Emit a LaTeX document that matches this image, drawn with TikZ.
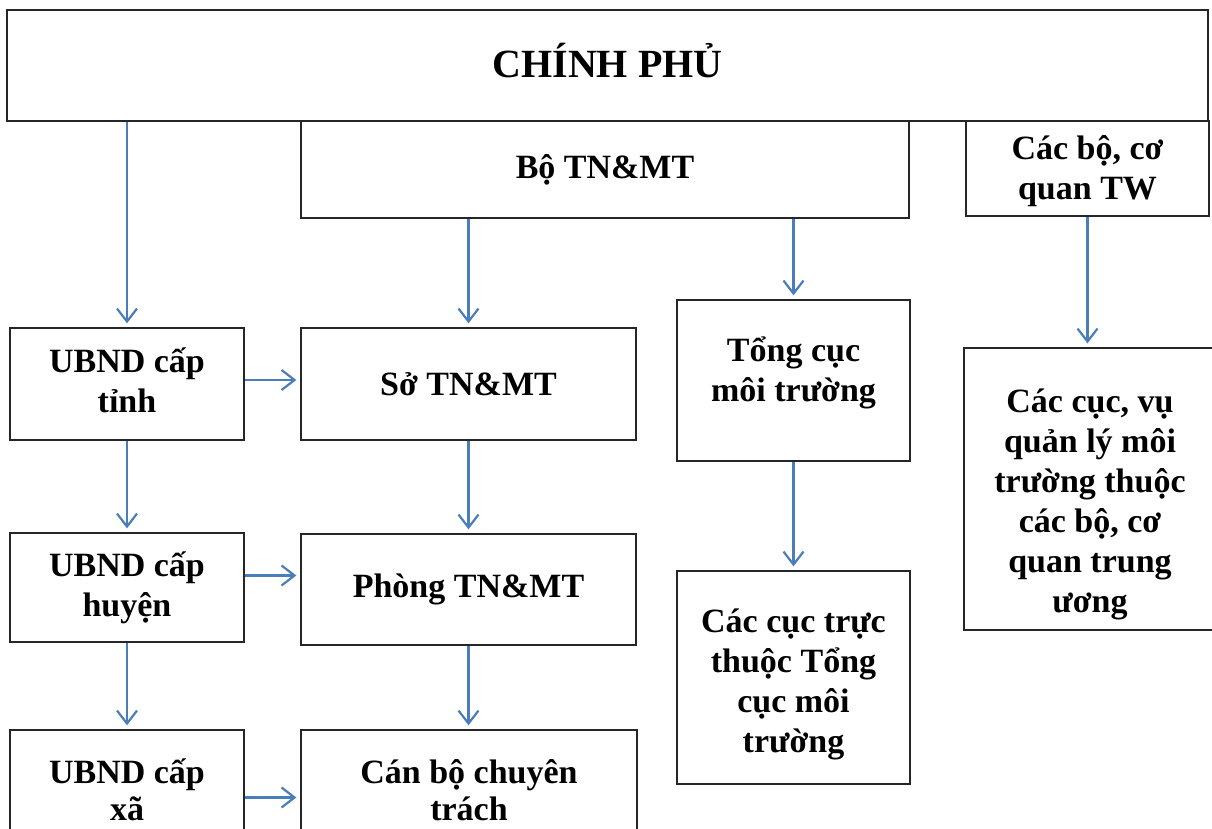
\documentclass[tikz,border=0pt]{standalone}
\usepackage{fontspec}
\setmainfont{Liberation Serif}
\usepackage{tikz}
\usetikzlibrary{positioning}
\usetikzlibrary{arrows.meta}
\definecolor{arrowblue}{HTML}{4A7EBB}
\tikzset{
    box/.style={draw=black!85,line width=1.3pt,align=center,inner sep=0pt,
            font=\bfseries\fontsize{34}{40}\selectfont},
    boxsize/.style 2 args={minimum width=#1pt,minimum height=#2pt},
    lift/.style={text height=#1pt,text depth=0pt},
    arrow/.style={-{Straight Barb[length=13pt,width=20pt,line width=2.2pt]},
            draw=arrowblue,line width=2.4pt,shorten >=4pt}
    }

\begin{document}
\begin{tikzpicture}[x=1pt,y=-1pt]
                \clip (0,0) rectangle (1212,829);
                \useasboundingbox (0,0) rectangle (1212,829);
                % top level
                \node (cp) [box, boxsize={1201}{111}, lift=25, font=\bfseries\fontsize{40}{44}\selectfont] at (607.5,65.5) {CHÍNH PHỦ};
                \node (bo) [box, boxsize={608}{97}] at (605,169.5) {Bộ TN\&MT};
                \node (tw) [box, boxsize={243}{95}, lift=63] at (1087.5,168.5) {Các bộ, cơ\\quan TW};
                % provincial level
                \node (tinh) [box, boxsize={234}{112}, lift=56] at (127,384) {UBND cấp\\tỉnh};
                \node (so) [box, boxsize={335}{112}] at (468.5,384) {Sở TN\&MT};
                \node (tc) [box, boxsize={233}{161}, text depth=22pt] at (793.5,380.5) {Tổng cục\\môi trường};
                \node (cv) [box, boxsize={252}{282}, lift=246] at (1090,489) {Các cục, vụ\\quản lý môi\\trường thuộc\\các bộ, cơ\\quan trung\\ương};
                % district level
                \node (huyen) [box, boxsize={234}{109}] at (127,587.5) {UBND cấp\\huyện};
                \node (phong) [box, boxsize={335}{111}] at (468.5,589.5) {Phòng TN\&MT};
                \node (cct) [box, boxsize={233}{213}, lift=149] at (793.5,677.5) {Các cục trực\\thuộc Tổng\\cục môi\\trường};
                % commune level
                \node (xa) [box, boxsize={234}{111}, lift=69, font=\bfseries\fontsize{34}{37}\selectfont] at (127,785.5) {UBND cấp\\xã};
                \node (cb) [box, boxsize={336}{111}, lift=69, font=\bfseries\fontsize{34}{37}\selectfont] at (469,785.5) {Cán bộ chuyên\\trách};
                % vertical arrows
                \draw [arrow] (cp.south -| tinh.north) -- (tinh.north);
                \draw [arrow] (bo.south -| so.north) -- (so.north);
                \draw [arrow] (bo.south -| tc.north) -- (tc.north);
                \draw [arrow] (tw.south) -- (tw.south |- cv.north);
                \draw [arrow] (tinh.south) -- (huyen.north);
                \draw [arrow] (so.south) -- (so.south |- phong.north);
                \draw [arrow] (tc.south) -- (cct.north);
                \draw [arrow] (huyen.south) -- (xa.north);
                \draw [arrow] (phong.south) -- (phong.south |- cb.north);
                % horizontal arrows
                \draw [arrow] ([yshift=4pt]tinh.east) -- ([yshift=4pt]tinh.east -| so.west);
                \draw [arrow] ([yshift=12pt]huyen.east) -- ([yshift=12pt]huyen.east -| phong.west);
                \draw [arrow] ([yshift=-12pt]xa.east) -- ([yshift=-12pt]xa.east -| cb.west);
            \end{tikzpicture}
\end{document}
